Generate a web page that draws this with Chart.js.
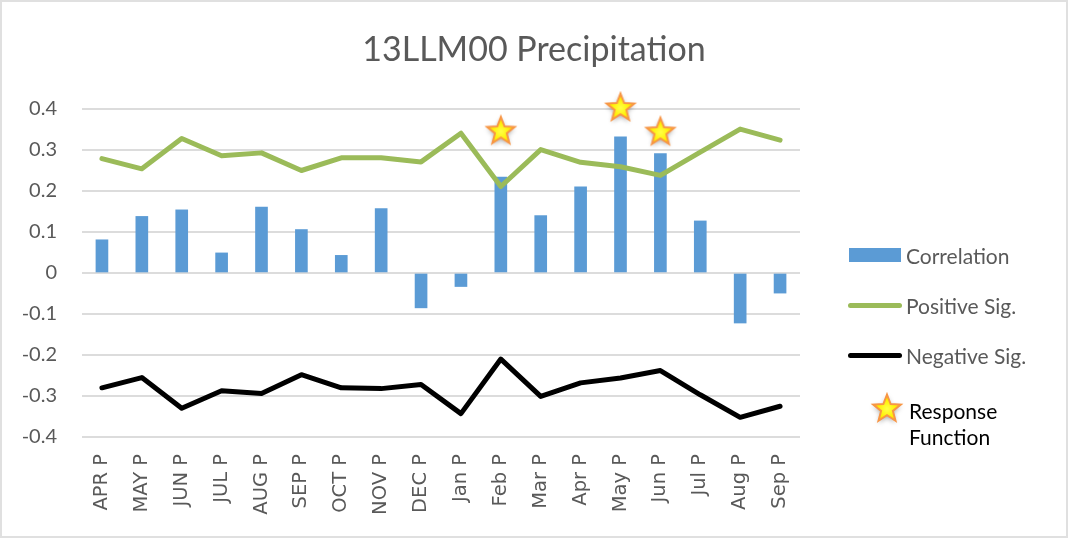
<!DOCTYPE html>
<html>
<head>
<meta charset="utf-8">
<script src="https://cdn.jsdelivr.net/npm/chart.js@4"></script>
<style>
  html, body { margin: 0; padding: 0; background: #fff; }
  #wrap { position: relative; width: 1068px; height: 538px; }
  #frame { position: absolute; left: 0; top: 0; width: 1064px; height: 534px; border: 2px solid #e0e0e0; pointer-events: none; }
  .leg { position: absolute; font-family: Lato, sans-serif; font-size: 21px; color: #595959; white-space: nowrap; }
  .sw { position: absolute; }
</style>
</head>
<body>
<div id="wrap">
  <canvas id="chart"></canvas>
  <div id="legend"></div>
  <div id="frame"></div>
</div>
<script>
document.addEventListener("DOMContentLoaded", () => {

    // --- DATEN ---
    const categories = ['APR P', 'MAY P', 'JUN P', 'JUL P', 'AUG P', 'SEP P', 'OCT P', 'NOV P', 'DEC P',
                        'Jan P', 'Feb P', 'Mar P', 'Apr P', 'May P', 'Jun P', 'Jul P', 'Aug P', 'Sep P'];
    const correlation = [0.081, 0.138, 0.154, 0.049, 0.161, 0.106, 0.043, 0.157, -0.085,
                         -0.033, 0.234, 0.140, 0.210, 0.332, 0.291, 0.127, -0.122, -0.049];
    const positiveSig = [0.279, 0.254, 0.328, 0.286, 0.293, 0.250, 0.281, 0.281, 0.271,
                         0.341, 0.211, 0.301, 0.270, 0.259, 0.238, 0.295, 0.351, 0.324];
    const negativeSig = [-0.280, -0.255, -0.330, -0.287, -0.294, -0.248, -0.280, -0.282, -0.272,
                         -0.343, -0.210, -0.301, -0.268, -0.256, -0.238, -0.297, -0.352, -0.325];
    const responseCats = ['Feb P', 'May P', 'Jun P'];
    const responseVals = [0.343, 0.400, 0.341];
    const yTicks = [0.4, 0.3, 0.2, 0.1, 0, -0.1, -0.2, -0.3, -0.4];
    const TITLE = '13LLM00 Precipitation';

    const BLUE = '#5b9bd5';
    const GREEN = '#9bbb59';
    const GREY = '#595959';

    // Stern als Punktstil
    function makeStar() {
        const c = document.createElement('canvas');
        c.width = 40; c.height = 40;
        const g = c.getContext('2d');
        const cx = 20, cy = 19, R = 14.5, r = 6.2;
        g.beginPath();
        for (let i = 0; i < 10; i++) {
            const rad = i % 2 === 0 ? R : r;
            const a = -Math.PI / 2 + i * Math.PI / 5;
            const x = cx + rad * Math.cos(a), y = cy + rad * Math.sin(a);
            if (i === 0) g.moveTo(x, y); else g.lineTo(x, y);
        }
        g.closePath();
        g.save();
        g.shadowColor = 'rgba(0,0,0,0.35)';
        g.shadowBlur = 5;
        g.shadowOffsetY = 2;
        const grad = g.createRadialGradient(cx, cy, 1, cx, cy, R);
        grad.addColorStop(0, '#ffff40');
        grad.addColorStop(0.6, '#ffee00');
        grad.addColorStop(1, '#ffc000');
        g.fillStyle = grad;
        g.fill();
        g.restore();
        g.lineWidth = 2;
        g.strokeStyle = '#f79646';
        g.stroke();
        return c;
    }
    const star = makeStar();

    const CHART_LEFT = 82, CHART_RIGHT = 800, CHART_TOP = 109, CHART_BOTTOM = 437;

    // Titel über die ganze Breite zentriert
    const titlePlugin = {
        id: 'centeredTitle',
        afterDraw(chart) {
            const { ctx, width } = chart;
            ctx.save();
            ctx.fillStyle = GREY;
            ctx.font = "34px Lato, sans-serif";
            ctx.textAlign = 'center';
            ctx.textBaseline = 'middle';
            ctx.fillText(TITLE, width / 2, 50);
            ctx.restore();
        }
    };

    new Chart(document.getElementById('chart').getContext('2d'), {
        plugins: [titlePlugin],
        data: {
            labels: categories,
            datasets: [
                {
                    type: 'line', label: 'Response Function', order: 0,
                    data: responseCats.map((c, i) => ({ x: c, y: responseVals[i] })),
                    showLine: false, pointStyle: star, pointRadius: 15, clip: false,
                },
                {
                    type: 'line', label: 'Positive Sig.', order: 1,
                    data: positiveSig, borderColor: GREEN, borderWidth: 5,
                    pointRadius: 0, tension: 0, borderJoinStyle: 'round', borderCapStyle: 'round',
                },
                {
                    type: 'line', label: 'Negative Sig.', order: 2,
                    data: negativeSig, borderColor: '#000', borderWidth: 5,
                    pointRadius: 0, tension: 0, borderJoinStyle: 'round', borderCapStyle: 'round',
                },
                {
                    type: 'bar', label: 'Correlation', order: 3,
                    data: correlation, backgroundColor: BLUE, barThickness: 12,
                },
            ]
        },
        options: {
            responsive: true,
            maintainAspectRatio: false,
            animation: false,
            events: [],
            layout: { padding: { left: 0, right: 1068 - CHART_RIGHT, top: CHART_TOP, bottom: 0 } },
            scales: {
                x: {
                    type: 'category',
                    grid: { display: false, drawTicks: false },
                    border: { display: false },
                    afterFit(scale) { scale.height = 538 - CHART_BOTTOM; },
                    ticks: {
                        color: GREY, padding: 17, minRotation: 90, maxRotation: 90, autoSkip: false,
                        font: { family: "'DejaVu Sans', sans-serif", size: 19.5 },
                    }
                },
                y: {
                    min: -0.4, max: 0.4,
                    afterFit(scale) { scale.width = CHART_LEFT; },
                    afterBuildTicks(scale) { scale.ticks = yTicks.map(v => ({ value: v })); },
                    grid: { color: '#dcdcdc', lineWidth: 2, drawTicks: false },
                    border: { display: false },
                    ticks: {
                        color: GREY, padding: 25,
                        font: { family: "Lato, sans-serif", size: 20 },
                        callback: v => (Math.abs(v) < 1e-9 ? '0' : v.toFixed(1)),
                    }
                }
            },
            plugins: {
                legend: { display: false },
                tooltip: { enabled: false },
                title: { display: false },
            }
        }
    });

    // --- LEGENDE ---
    const legend = document.getElementById('legend');
    const add = (html, style, cls) => {
        const el = document.createElement('div');
        el.innerHTML = html;
        if (cls) el.className = cls;
        Object.assign(el.style, style);
        legend.appendChild(el);
        return el;
    };
    const legendItems = [
        { label: 'Correlation', y: 256, swatch: { left: '849px', top: '248px', width: '52px', height: '14px', background: BLUE } },
        { label: 'Positive Sig.', y: 306, swatch: { left: '848px', top: '303px', width: '54px', height: '5px', background: GREEN, borderRadius: '3px' } },
        { label: 'Negative Sig.', y: 356, swatch: { left: '848px', top: '353px', width: '54px', height: '5px', background: '#000', borderRadius: '3px' } },
    ];
    legendItems.forEach(it => {
        add('', it.swatch, 'sw');
        add(it.label, { left: '906px', top: (it.y - 13) + 'px' }, 'leg');
    });
    const starEl = makeStar();
    Object.assign(starEl.style, { position: 'absolute', left: '867px', top: '390px' });
    legend.appendChild(starEl);
    add('Response<br>Function', { left: '909px', top: '398px', color: '#000', lineHeight: '26px', whiteSpace: 'normal' }, 'leg');
});
</script>
</body>
</html>
